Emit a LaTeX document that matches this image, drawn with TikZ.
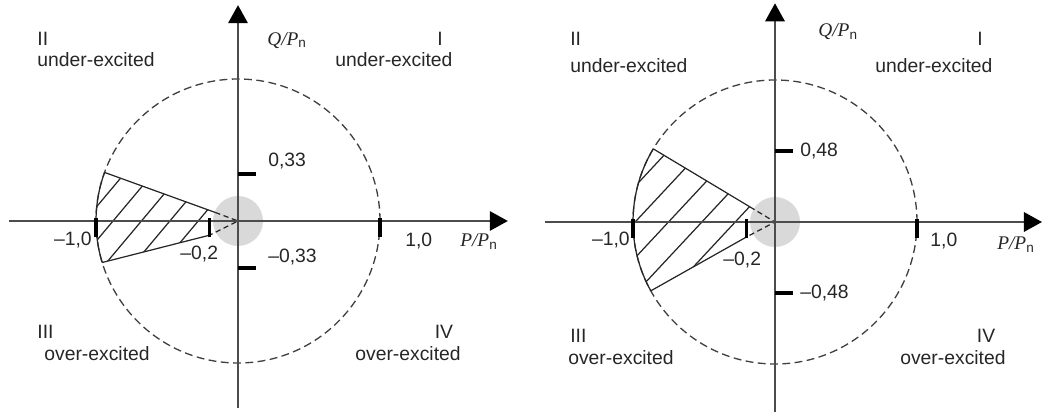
\documentclass[tikz,border=0pt]{standalone}
\usepackage{fontspec}
\setmainfont{Liberation Sans}
\newfontfamily\timesfont{Liberation Serif}
\usetikzlibrary{arrows.meta}

\newcommand{\ratio}[1]{{\timesfont\itshape #1/P}\textsubscript{n}}

\begin{document}
\begin{tikzpicture}[
    axis/.style={black!70, line width=0.9pt,
    -{Triangle[length=3.6mm, width=3.9mm, color=black]}},
    ring/.style={draw=black!75, line width=0.75pt, dash pattern=on 4.5pt off 2.5pt},
    tickmark/.style={black, line width=2pt},
    hatch/.style={black!85, line width=0.7pt},
    lbl/.style={font=\fontsize{11}{13}\selectfont, text=black!85, inner sep=0pt}
]
\useasboundingbox (0,0) rectangle (20.84,8.32);

% left diagram: 0,33
\begin{scope}[shift={(4.76,3.90)}, x=2.84cm, y=2.84cm]
\fill[gray!30] (0,0) circle (0.176);
\draw[ring] (0,0) circle (1);
\coordinate (lO) at (0,0);
\coordinate (lUp) at (160:1);
\coordinate (lUpIn) at (-0.16,0.06);
\coordinate (lLoIn) at (-0.2,-0.1);
\coordinate (lLo) at (197:1);
\begin{scope}
\clip (lUp) -- (lUpIn) -- (lLoIn) -- (lLo) arc[start angle=197, end angle=160, radius=1] -- cycle;
\foreach \s in {0,...,4}
    \draw[hatch] ({-0.28-0.2*\s},0) ++(230:0.7) -- ++(50:1.4);
\end{scope}
\draw[hatch] (lUp) -- (lUpIn);
\draw[hatch] (lLoIn) -- (lLo);
\draw[hatch] (lLo) arc[start angle=197, end angle=160, radius=1];
\draw[hatch, densely dashed] (lUpIn) -- (lO) -- (lLoIn);
\draw[axis] (-1.61,0) -- (1.90,0);
\draw[axis] (0,-1.32) -- (0,1.52);
\foreach \p in {-1,-0.2,1}
    \draw[tickmark] (\p,0.02) -- (\p,-0.11);
\foreach \q in {-0.33,0.33}
    \draw[tickmark] (0,\q) -- (0.13,\q);
\node[lbl, anchor=base west] (lQII) at (-1.415,1.239) {II};
\node[lbl, anchor=base west] (lQIItxt) at (-1.415,1.085) {under-excited};
\node[lbl, anchor=base] (lQI) at (1.423,1.239) {I};
\node[lbl, anchor=base west] (lQItxt) at (0.683,1.085) {under-excited};
\node[lbl, anchor=base west] (lQIII) at (-1.415,-0.824) {III};
\node[lbl, anchor=base west] (lQIIItxt) at (-1.366,-0.979) {over-excited};
\node[lbl, anchor=base] (lQIV) at (1.45,-0.824) {IV};
\node[lbl, anchor=base west] (lQIVtxt) at (0.824,-0.979) {over-excited};
\node[lbl, anchor=base west] (lQlab) at (0.204,1.239) {\ratio{Q}};
\node[lbl, anchor=base west] (lPlab) at (1.563,-0.183) {\ratio{P}};
\node[lbl, anchor=base west] (lQpos) at (0.211,0.387) {0,33};
\node[lbl, anchor=base west] (lQneg) at (0.211,-0.289) {--0,33};
\node[lbl, anchor=base east] (lPmin) at (-1.028,-0.176) {--1,0};
\node[lbl, anchor=base west] (lPlim) at (-0.408,-0.268) {--0,2};
\node[lbl, anchor=base west] (lPmax) at (1.176,-0.183) {1,0};
\end{scope}

% right diagram: 0,48
\begin{scope}[shift={(15.50,3.88)}, x=2.84cm, y=2.84cm]
\fill[gray!30] (0,0) circle (0.176);
\draw[ring] (0,0) circle (1);
\coordinate (rO) at (0,0);
\coordinate (rUp) at (149:1);
\coordinate (rUpIn) at (-0.176,0.106);
\coordinate (rLoIn) at (-0.2,-0.105);
\coordinate (rLo) at (209:1);
\begin{scope}
\clip (rUp) -- (rUpIn) -- (rLoIn) -- (rLo) arc[start angle=209, end angle=149, radius=1] -- cycle;
\foreach \s in {0,...,4}
    \draw[hatch] ({-0.28-0.235*\s},0) ++(227:0.8) -- ++(47:1.6);
\end{scope}
\draw[hatch] (rUp) -- (rUpIn);
\draw[hatch] (rLoIn) -- (rLo);
\draw[hatch] (rLo) arc[start angle=209, end angle=149, radius=1];
\draw[hatch, densely dashed] (rUpIn) -- (rO) -- (rLoIn);
\draw[axis] (-1.62,0) -- (1.88,0);
\draw[axis] (0,-1.34) -- (0,1.54);
\foreach \p in {-1,-0.2,1}
    \draw[tickmark] (\p,0.02) -- (\p,-0.11);
\foreach \q in {-0.5,0.5}
    \draw[tickmark] (0,\q) -- (0.13,\q);
\node[lbl, anchor=base west] (rQII) at (-1.444,1.246) {II};
\node[lbl, anchor=base west] (rQIItxt) at (-1.444,1.056) {under-excited};
\node[lbl, anchor=base] (rQI) at (1.444,1.246) {I};
\node[lbl, anchor=base west] (rQItxt) at (0.704,1.056) {under-excited};
\node[lbl, anchor=base west] (rQIII) at (-1.444,-0.852) {III};
\node[lbl, anchor=base west] (rQIIItxt) at (-1.458,-1.007) {over-excited};
\node[lbl, anchor=base] (rQIV) at (1.486,-0.852) {IV};
\node[lbl, anchor=base west] (rQIVtxt) at (0.880,-1.007) {over-excited};
\node[lbl, anchor=base west] (rQlab) at (0.303,1.303) {\ratio{Q}};
\node[lbl, anchor=base west] (rPlab) at (1.563,-0.197) {\ratio{P}};
\node[lbl, anchor=base west] (rQpos) at (0.176,0.458) {0,48};
\node[lbl, anchor=base west] (rQneg) at (0.176,-0.542) {--0,48};
\node[lbl, anchor=base east] (rPmin) at (-1.021,-0.169) {--1,0};
\node[lbl, anchor=base west] (rPlim) at (-0.366,-0.303) {--0,2};
\node[lbl, anchor=base west] (rPmax) at (1.092,-0.176) {1,0};
\end{scope}
\end{tikzpicture}
\end{document}
